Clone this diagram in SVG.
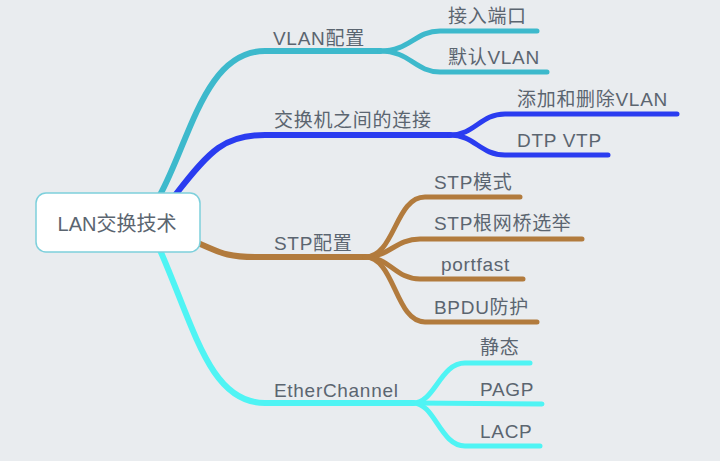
<svg xmlns="http://www.w3.org/2000/svg" width="720" height="461" viewBox="0 0 720 461">
<style>
text{font-family:"Liberation Sans","Noto Sans CJK SC",sans-serif;font-size:19px;fill:#5b6570;letter-spacing:0.7px}
.root{font-size:20px;text-anchor:middle;letter-spacing:0}
.b{fill:none;stroke-linecap:round;stroke-linejoin:round}
.m{stroke-width:6}
.s{stroke-width:5}
.teal{stroke:#3db9cc}
.blue{stroke:#2a3cf0}
.brown{stroke:#b27b3d}
.cyan{stroke:#4ff4f4}
</style>
<rect width="720" height="461" fill="#e9ecef"/>
<g id="connectors">
<path class="b m teal" d="M160,195 C190,140 205,51 265,51 L380,51"/>
<path class="b s teal" d="M380,51 C410,51 415,31 440,31 L537,31"/>
<path class="b s teal" d="M380,51 C410,51 415,72 440,72 L547,72"/>
<path class="b m blue" d="M176,194 C210,150 225,135 265,135 L450,135"/>
<path class="b s blue" d="M450,135 C475,135 480,114 505,114 L677,114"/>
<path class="b s blue" d="M450,135 C475,135 480,155 505,155 L608,155"/>
<path class="b m brown" d="M198,243 C220,252 225,257 255,257 L365,257"/>
<path class="b s brown" d="M365,257 C395,257 395,197 425,197 L520,197"/>
<path class="b s brown" d="M365,257 C390,257 395,239 420,239 L582,239"/>
<path class="b s brown" d="M365,257 C390,257 395,279 420,279 L523,279"/>
<path class="b s brown" d="M365,257 C395,257 395,322 425,322 L537,322"/>
<path class="b m cyan" d="M160,250 C195,330 210,403 265,403 L413,403"/>
<path class="b s cyan" d="M413,403 C435,403 440,363 465,363 L530,363"/>
<path class="b s cyan" d="M413,403 L542,404"/>
<path class="b s cyan" d="M413,403 C435,403 440,446 465,446 L540,446"/>
</g>
<g id="root">
<rect x="36" y="193" width="164" height="59" rx="10" fill="#ffffff" stroke="#7dd0dc" stroke-width="1.5"/>
<text class="root" x="117" y="231">LAN交换技术</text>
</g>
<g id="vlan"><text x="273" y="45">VLAN配置</text></g>
<g id="vlan-access"><text x="448" y="23">接入端口</text></g>
<g id="vlan-default"><text x="448" y="64">默认VLAN</text></g>
<g id="trunk"><text x="274" y="127">交换机之间的连接</text></g>
<g id="trunk-add"><text x="517" y="106">添加和删除VLAN</text></g>
<g id="trunk-dtp"><text x="517" y="147">DTP VTP</text></g>
<g id="stp"><text x="274" y="250">STP配置</text></g>
<g id="stp-mode"><text x="434" y="189">STP模式</text></g>
<g id="stp-root"><text x="434" y="230">STP根网桥选举</text></g>
<g id="stp-portfast"><text x="441" y="271">portfast</text></g>
<g id="stp-bpdu"><text x="434" y="314">BPDU防护</text></g>
<g id="ether"><text x="274" y="397">EtherChannel</text></g>
<g id="ether-static"><text x="480" y="354">静态</text></g>
<g id="ether-pagp"><text x="480" y="396">PAGP</text></g>
<g id="ether-lacp"><text x="480" y="438">LACP</text></g>
</svg>
